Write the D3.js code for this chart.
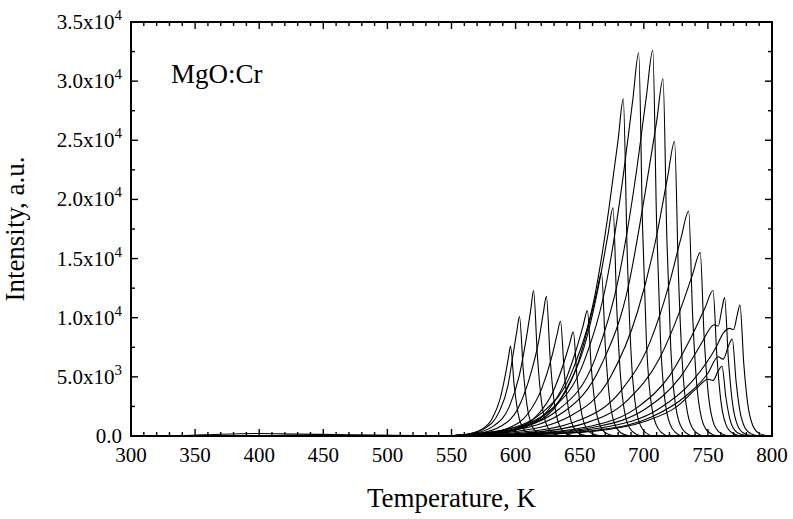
<!DOCTYPE html>
<html lang="en">
<head>
<meta charset="UTF-8">
<title>MgO:Cr</title>
<script src="https://cdnjs.cloudflare.com/ajax/libs/d3/7.8.5/d3.min.js"></script>
<style>
  body { margin: 0; background: #fff; }
  text { font-family: "Liberation Serif", "Times New Roman", serif; fill: #000; }
</style>
</head>
<body>
<script>
var margin = {top: 22, right: 21, bottom: 83, left: 131},
    width = 793 - margin.left - margin.right,
    height = 519 - margin.top - margin.bottom;

// glow curves, [temperature K, intensity a.u.]
var lowBand = [[300,0],[340,30],[370,150],[400,210],[430,160],[460,120],[490,70],[520,40],[545,0]];
var c596 = [[545,0],[560,110],[573,530],[582,1520],[588,3190],[592,5170],[594.5,6690],[596,7600],[599,4180],[602,1900],[606,610],[611,150],[618,0]];
var c603 = [[545,0],[562,150],[577,710],[587,2020],[594,4240],[598,6870],[601,8890],[603,10100],[606,5560],[609,2530],[613,810],[618,200],[625,0]];
var c614 = [[545,0],[566,190],[583,860],[595,2460],[603,5170],[608.5,8360],[612,10820],[614,12300],[617,6770],[620,3080],[624,980],[629,250],[636,0]];
var c624 = [[545,0],[569,180],[588.5,830],[602,2360],[611,4960],[618,8020],[621.6,10380],[624,11800],[627,6490],[630,2950],[634,940],[639,240],[646,0]];
var c635 = [[545,0],[572,150],[594.5,680],[610,1940],[620.6,4070],[628,6600],[632.3,8540],[635,9700],[638,5340],[641,2430],[645,780],[650,190],[657,0]];
var c645 = [[545,0],[575,130],[600,620],[617,1760],[629,3700],[637,5980],[642,7740],[645,8800],[648,4840],[651,2200],[655,700],[660,180],[667,0]];
var c656 = [[545,0],[578,160],[606,740],[625,2120],[638,4450],[647,7210],[652.7,9330],[656,10600],[659,5830],[662,2650],[666,850],[671,210],[678,0]];
var c667 = [[545,0],[582,210],[612,970],[633,2760],[647.5,5800],[657,9380],[663.3,12140],[667,13800],[670,7590],[673,3450],[677,1100],[682,280],[689,0]];
var c676 = [[545,0],[584,290],[617,1350],[639,3860],[655,8110],[665.5,13120],[672,16980],[676,19300],[679,10600],[682,4830],[686,1540],[691,390],[698,0]];
var c684 = [[545,0],[587,430],[621,2000],[645,5700],[662,11970],[673,19380],[680,25080],[684,28500],[687,15680],[690,7130],[694,2280],[699,570],[706,0]];
var c696 = [[545,0],[590,490],[628,2270],[654,6480],[672,13610],[684,22030],[691.5,28510],[696,32400],[699,17800],[702,8100],[706,2590],[711,650],[718,0]];
var c707 = [[545,0],[594,490],[634,2280],[662,6520],[681,13690],[694,22170],[702,28690],[707,32600],[710,17930],[713,8150],[717,2610],[722,650],[729,0]];
var c715 = [[545,0],[596,450],[638.5,2110],[667,6040],[688,12680],[701,20540],[710,26580],[715,30200],[718,16610],[721,7550],[725,2420],[730,600],[737,0]];
var c724 = [[545,0],[599,370],[643.5,1740],[674,4980],[695,10460],[710,16930],[718.6,21910],[724,24900],[727,13700],[730,6230],[734,1990],[739,500],[746,0]];
var c735 = [[545,0],[602,290],[649.5,1330],[682,3800],[705,7980],[720,12920],[729,16720],[735,19000],[738,10450],[741,4750],[745,1520],[750,380],[757,0]];
var c744 = [[545,0],[605,230],[654.5,1090],[688,3100],[712,6510],[728,10540],[738,13640],[744,15500],[747,8530],[750,3880],[754,1240],[759,310],[766,0]];
var c754 = [[545,0],[608,190],[660,860],[695.5,2460],[720.6,5170],[737,8360],[747.7,10820],[754,12300],[757,6770],[760,3080],[764,980],[769,250],[776,0]];
var c763 = [[545,0],[610,180],[665,820],[702,2340],[728,4910],[745.6,7960],[751,9000],[755,9400],[758,9300],[761,10800],[763,11700],[766,6440],[769,2930],[773,940],[778,230],[785,0]];
var c775 = [[545,0],[614,170],[671.5,780],[710.6,2220],[738,4660],[756.6,7550],[762,8700],[767,9100],[770,9000],[773,10300],[775,11100],[778,6100],[781,2780],[785,890],[790,220],[797,0]];
var c769 = [[545,0],[612,120],[668,560],[706,1600],[733,3400],[750,5300],[758,6700],[762,6500],[766,7600],[769,8200],[772,4600],[775,2100],[779,680],[784,170],[791,0]];
var c760 = [[545,0],[610,100],[663,420],[700,1200],[726,2500],[741,4000],[750,4800],[754,4700],[758,5500],[761,5900],[764,3300],[767,1500],[771,480],[776,120],[783,0]];

var curves = [lowBand, c596, c603, c614, c624, c635, c645, c656, c667, c676, c684,
              c696, c707, c715, c724, c735, c744, c754, c763, c775, c769, c760];

var xMajor = d3.range(300, 801, 50),
    xMinor = d3.range(300, 801, 10).filter(function(d) { return d % 50 != 0; }),
    yMajor = d3.range(0, 35001, 5000),
    yMinor = d3.range(2500, 35000, 5000);

var svg = d3.select("body").append("svg")
    .attr("width", 793)
    .attr("height", 519)
    .style("background-color", "#fff");

var x = d3.scaleLinear().domain([300, 800]).range([0, width]);
var y = d3.scaleLinear().domain([0, 35000]).range([height, 0]);

var g = svg.append("g").attr("transform", "translate(" + margin.left + "," + margin.top + ")");

g.append("clipPath").attr("id", "clip")
  .append("rect").attr("width", width).attr("height", height);

var line = d3.line()
    .x(function(d) { return x(d[0]); })
    .y(function(d) { return y(d[1]); })
    .curve(d3.curveMonotoneX);

g.append("g").attr("clip-path", "url(#clip)")
  .selectAll("path")
  .data(curves)
  .enter().append("path")
    .attr("d", line)
    .attr("fill", "none")
    .attr("stroke", "#000")
    .attr("stroke-width", 1.1);

// ticks, inside, on all four sides
function xTicks(vals, len) {
  g.selectAll(null).data(vals).enter().append("line")
    .attr("x1", function(d) { return x(d); }).attr("x2", function(d) { return x(d); })
    .attr("y1", height).attr("y2", height - len)
    .attr("stroke", "#000").attr("stroke-width", 1.4);
  g.selectAll(null).data(vals).enter().append("line")
    .attr("x1", function(d) { return x(d); }).attr("x2", function(d) { return x(d); })
    .attr("y1", 0).attr("y2", len)
    .attr("stroke", "#000").attr("stroke-width", 1.4);
}
function yTicks(vals, len) {
  g.selectAll(null).data(vals).enter().append("line")
    .attr("y1", function(d) { return y(d); }).attr("y2", function(d) { return y(d); })
    .attr("x1", 0).attr("x2", len)
    .attr("stroke", "#000").attr("stroke-width", 1.4);
  g.selectAll(null).data(vals).enter().append("line")
    .attr("y1", function(d) { return y(d); }).attr("y2", function(d) { return y(d); })
    .attr("x1", width).attr("x2", width - len)
    .attr("stroke", "#000").attr("stroke-width", 1.4);
}
xTicks(xMajor, 7);
xTicks(xMinor, 4);
yTicks(yMajor, 7);
yTicks(yMinor, 4);

g.append("rect")
    .attr("width", width).attr("height", height)
    .attr("fill", "none").attr("stroke", "#000").attr("stroke-width", 2);

g.selectAll(null).data(xMajor).enter().append("text")
    .attr("x", function(d) { return x(d); })
    .attr("y", height + 26)
    .attr("text-anchor", "middle")
    .style("font-size", "21px")
    .text(function(d) { return d; });

var yLab = g.selectAll(null).data(yMajor).enter().append("text")
    .attr("x", -9)
    .attr("y", function(d) { return y(d) + 7; })
    .attr("text-anchor", "end")
    .style("font-size", "21px");
yLab.each(function(d) {
  var t = d3.select(this);
  if (d == 0) { t.text("0.0"); return; }
  var e = Math.floor(Math.log10(d)), m = (d / Math.pow(10, e)).toFixed(1);
  t.append("tspan").text(m + "x10");
  t.append("tspan").attr("dy", -9).style("font-size", "15px").text(e);
});

g.append("text")
    .attr("x", width / 2)
    .attr("y", height + 71)
    .attr("text-anchor", "middle")
    .style("font-size", "27px")
    .text("Temperature, K");

g.append("text")
    .attr("transform", "translate(" + (-107) + "," + (height / 2) + ") rotate(-90)")
    .attr("text-anchor", "middle")
    .style("font-size", "27px")
    .text("Intensity, a.u.");

g.append("text")
    .attr("x", 40)
    .attr("y", 61)
    .style("font-size", "27px")
    .text("MgO:Cr");
</script>
</body>
</html>
